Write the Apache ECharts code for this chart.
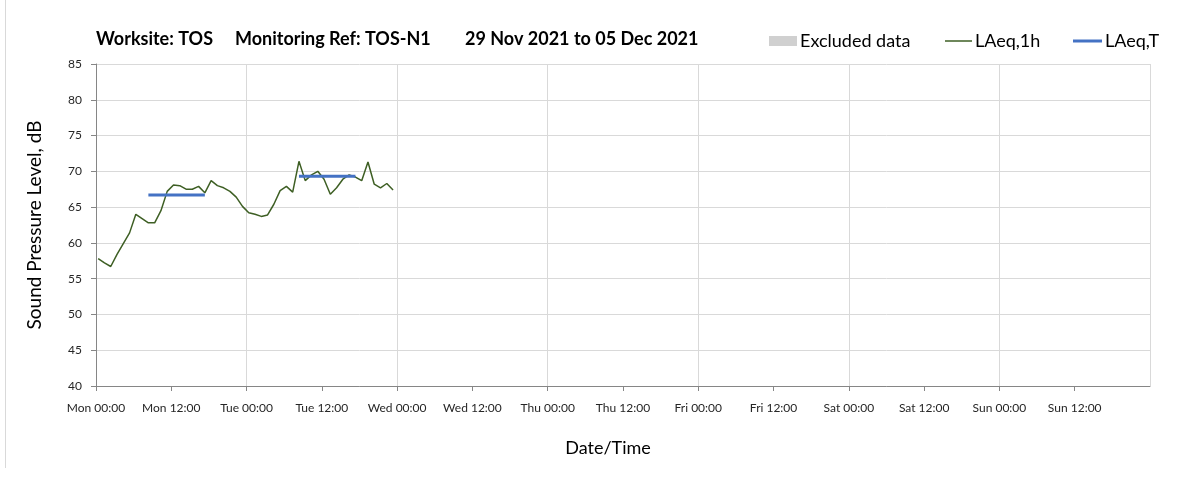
<!DOCTYPE html>
<html>
<head>
<meta charset="utf-8">
<script src="https://cdn.jsdelivr.net/npm/echarts@6/dist/echarts.min.js"></script>
<style>
html, body { margin: 0; padding: 0; background: #fff; }
#chart { width: 1203px; height: 477px; }
</style>
</head>
<body>
<div id="chart"></div>
<script>
// hourly LAeq,1h readings, Mon 29 Nov onwards (hours since Mon 00:00)
var firstHour = 0.35;
var laeq1h = [57.8, 57.2, 56.7, 58.4, 59.9, 61.4, 64.0, 63.4, 62.8, 62.8, 64.5, 67.2,
              68.1, 68.0, 67.5, 67.5, 67.9, 67.0, 68.7, 68.0, 67.7, 67.2, 66.4, 65.1,
              64.2, 64.0, 63.7, 63.9, 65.4, 67.3, 67.9, 67.1, 71.4, 68.7, 69.5, 70.0,
              68.9, 66.8, 67.7, 68.9, 69.5, 69.2, 68.7, 71.3, 68.2, 67.7, 68.3, 67.4];

// LAeq,T daytime periods
var periodStart = [8.35, 32.35];
var periodEnd = [17.35, 41.35];
var laeqT = [66.7, 69.3];

var tickLabels = ['Mon 00:00', 'Mon 12:00', 'Tue 00:00', 'Tue 12:00', 'Wed 00:00', 'Wed 12:00',
                  'Thu 00:00', 'Thu 12:00', 'Fri 00:00', 'Fri 12:00', 'Sat 00:00', 'Sat 12:00',
                  'Sun 00:00', 'Sun 12:00', 'Mon 00:00'];

var FONT = 'Lato, "Open Sans", sans-serif';
var GREEN = '#3e5f24', BLUE = '#4472c4', GREY = '#d0d0d0';

var myChart = echarts.init(document.getElementById('chart'));

var lineData = laeq1h.map(function (v, i) { return [firstHour + i, v]; });

var series = [{
    name: 'Excluded data',
    type: 'bar',
    data: [],
    itemStyle: { color: GREY }
}, {
    name: 'LAeq,1h',
    type: 'line',
    data: lineData,
    symbol: 'none',
    lineStyle: { color: GREEN, width: 1.5 },
    itemStyle: { color: GREEN },
    z: 3
}];

laeqT.forEach(function (v, i) {
    series.push({
        name: 'LAeq,T',
        type: 'line',
        data: [[periodStart[i], v], [periodEnd[i], v]],
        symbol: 'none',
        lineStyle: { color: BLUE, width: 3 },
        itemStyle: { color: BLUE },
        z: 4
    });
});

function legendAt(left, name, w, h, color) {
    return {
        left: left,
        top: 32,
        padding: 0,
        itemWidth: w,
        itemHeight: h,
        itemGap: 0,
        selectedMode: false,
        textStyle: { fontFamily: FONT, fontSize: 18, color: '#000', padding: [0, 0, 0, -2] },
        data: [{ name: name, icon: 'rect', itemStyle: { color: color, borderWidth: 0 } }]
    };
}

var titleStyle = { fontFamily: FONT, fontSize: 18, fontWeight: 'bold', color: '#000' };

myChart.setOption({
    animation: false,
    textStyle: { fontFamily: FONT },
    title: {
        text: '{a|Worksite: TOS}{b|Monitoring Ref: TOS-N1}{c|29 Nov 2021 to 05 Dec 2021}',
        left: 96,
        top: 30,
        padding: 0,
        textStyle: {
            fontFamily: FONT, fontSize: 18, fontWeight: 'bold', color: '#000',
            rich: {
                a: echarts.util.extend({ width: 139 }, titleStyle),
                b: echarts.util.extend({ width: 230 }, titleStyle),
                c: titleStyle
            }
        }
    },
    legend: [
        legendAt(769, 'Excluded data', 28, 10, GREY),
        legendAt(945, 'LAeq,1h', 27, 1.5, GREEN),
        legendAt(1073, 'LAeq,T', 29, 3, BLUE)
    ],
    grid: { left: 96, right: 53, top: 64, bottom: 91 },
    xAxis: [{
        type: 'value',
        min: 0,
        max: 168,
        interval: 12,
        name: 'Date/Time',
        nameLocation: 'middle',
        nameGap: 53,
        nameTextStyle: { fontFamily: FONT, fontSize: 18, color: '#000', padding: [0, 30, 0, 0] },
        axisLine: { lineStyle: { color: '#868686', width: 1 } },
        axisTick: { show: true, inside: false, length: 5, lineStyle: { color: '#868686' } },
        axisLabel: {
            margin: 16,
            fontSize: 12,
            color: '#262626',
            showMaxLabel: false,
            formatter: function (v) { return tickLabels[Math.round(v / 12)]; }
        },
        splitLine: { show: false },
        z: 2
    }, {
        // day boundaries only
        type: 'value',
        min: 0,
        max: 168,
        interval: 24,
        position: 'bottom',
        axisLine: { show: false },
        axisTick: { show: false },
        axisLabel: { show: false },
        splitLine: { show: true, lineStyle: { color: '#d9d9d9', width: 1 } }
    }],
    yAxis: {
        type: 'value',
        min: 40,
        max: 85,
        interval: 5,
        name: 'Sound Pressure Level, dB',
        nameLocation: 'middle',
        nameGap: 52,
        nameTextStyle: { fontFamily: FONT, fontSize: 19, color: '#000' },
        axisLine: { show: true, lineStyle: { color: '#868686', width: 1 } },
        axisTick: { show: true, inside: false, length: 5, lineStyle: { color: '#868686' } },
        axisLabel: { margin: 14, fontSize: 12, color: '#262626' },
        splitLine: { show: true, lineStyle: { color: '#d9d9d9', width: 1 } }
    },
    graphic: [{
        type: 'line',
        shape: { x1: 5.5, y1: 0, x2: 5.5, y2: 468 },
        style: { stroke: '#d9d9d9', lineWidth: 1 }
    }],
    series: series
});

window.onresize = function () {
    myChart.resize();
};
</script>
</body>
</html>
